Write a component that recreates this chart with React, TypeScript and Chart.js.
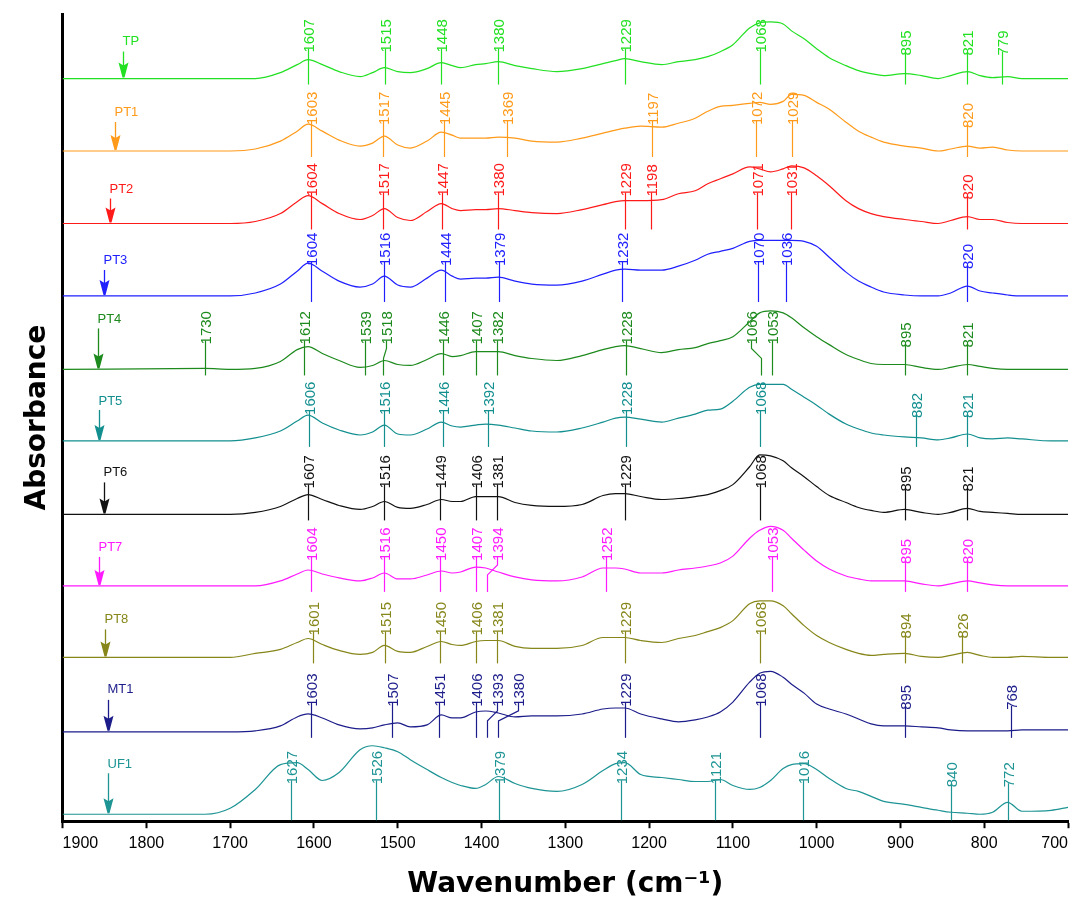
import React, { useEffect, useRef } from "react";
import { Chart, registerables } from "chart.js";

Chart.register(...registerables);

// ---------- data ----------
const WAVENUMBERS = [
  1900, 1730, 1700, 1670, 1640, 1620, 1607, 1590, 1570, 1545,
  1530, 1516, 1500, 1485, 1465, 1448, 1435, 1425, 1407, 1395,
  1380, 1360, 1340, 1310, 1280, 1255, 1240, 1229, 1210, 1185,
  1165, 1145, 1130, 1115, 1100, 1080, 1068, 1055, 1040, 1030,
  1015, 1000, 985, 965, 950, 935, 920, 895, 875, 855,
  840, 820, 805, 790, 772, 755, 720, 700,
];

const TP = [
  0, 0, 0, 0, 6, 14, 19, 14, 7, 2,
  6, 11, 7, 6, 10, 16, 13, 11, 14, 15,
  17, 13, 10, 7, 10, 15, 18, 20, 17, 14,
  17, 19, 22, 27, 34, 51, 56, 57, 55, 48,
  40, 30, 21, 13, 8, 5, 3, 5, 3, 0,
  3, 7, 3, 1, 2, 0, 0, 0,
];
const PT1 = [
  0, 0, 0, 2, 10, 20, 27, 20, 11, 5,
  8, 15, 6, 3, 10, 19, 16, 13, 13, 13,
  14, 13, 10, 9, 13, 18, 21, 23, 25, 24,
  28, 33, 40, 45, 46, 48, 49, 47, 50, 57,
  56, 49, 42, 29, 20, 14, 9, 5, 3, 0,
  2, 5, 3, 4, 1, 0, 0, 0,
];
const PT2 = [
  0, 0, 0, 2, 10, 22, 28, 20, 10, 4,
  8, 15, 6, 3, 12, 20, 15, 13, 14, 14,
  15, 13, 11, 10, 14, 19, 22, 23, 23, 24,
  30, 33, 40, 45, 50, 57, 55, 52, 55, 58,
  56, 48, 38, 23, 15, 10, 7, 4, 2, 0,
  3, 7, 4, 4, 1, 0, 0, 0,
];
const PT3 = [
  0, 0, 0, 3, 12, 25, 33, 25, 15, 9,
  12, 20, 11, 9, 18, 26, 20, 17, 18, 18,
  19, 15, 12, 11, 15, 22, 26, 27, 26, 26,
  30, 36, 42, 45, 48, 55, 56, 56, 56, 56,
  55, 50, 39, 24, 15, 9, 4, 1, 0, 0,
  3, 10, 5, 3, 1, 0, 0, 0,
];
const PT4 = [
  0, 1, 0, 1, 8, 20, 23, 16, 9, 2,
  4, 9, 5, 4, 10, 16, 13, 14, 18, 18,
  18, 14, 11, 9, 14, 20, 23, 24, 21, 17,
  20, 22, 26, 29, 33, 48, 57, 59, 57, 52,
  42, 33, 25, 15, 10, 6, 5, 5, 2, 0,
  2, 5, 3, 1, 0, 0, 0, 0,
];
const PT5 = [
  0, 0, 0, 3, 10, 20, 26, 18, 11, 6,
  9, 16, 7, 6, 12, 19, 15, 14, 16, 17,
  16, 13, 10, 9, 13, 19, 23, 24, 22, 19,
  23, 27, 31, 32, 40, 54, 57, 57, 57, 52,
  44, 36, 27, 17, 12, 8, 6, 4, 3, 1,
  3, 7, 3, 2, 3, 2, 0, 0,
];
const PT6 = [
  0, 0, 0, 2, 8, 16, 20, 15, 9, 5,
  8, 13, 7, 6, 10, 15, 13, 13, 18, 18,
  18, 12, 9, 8, 10, 19, 21, 21, 18, 15,
  16, 18, 20, 24, 30, 48, 60, 59, 54, 47,
  38, 28, 19, 12, 7, 4, 2, 5, 2, 0,
  2, 6, 3, 2, 1, 0, 0, 0,
];
const PT7 = [
  0, 0, 0, 0, 5, 12, 16, 12, 8, 5,
  8, 13, 7, 7, 11, 15, 13, 14, 19, 18,
  14, 9, 6, 5, 9, 18, 18, 17, 13, 13,
  16, 18, 20, 23, 30, 48, 56, 60, 56, 48,
  36, 25, 17, 10, 7, 5, 5, 5, 2, 0,
  2, 5, 3, 1, 0, 0, 0, 0,
];
const PT8 = [
  0, 0, 0, 4, 8, 15, 19, 13, 7, 3,
  5, 12, 6, 5, 11, 16, 13, 12, 16, 17,
  17, 11, 9, 9, 12, 20, 20, 20, 17, 15,
  19, 22, 26, 30, 37, 54, 57, 57, 52, 44,
  32, 22, 15, 8, 4, 2, 3, 4, 1, 0,
  2, 5, 2, 0, 0, 1, 0, 0,
];
const MT1 = [
  0, 0, 0, 1, 6, 15, 18, 14, 7, 3,
  4, 7, 9, 5, 7, 17, 14, 14, 20, 21,
  19, 15, 16, 16, 18, 23, 24, 24, 18, 13,
  10, 12, 15, 20, 30, 50, 59, 61, 55, 48,
  39, 28, 23, 18, 13, 8, 6, 6, 5, 4,
  2, 1, 1, 1, 1, 2, 2, 2,
];
const UF1 = [
  0, 0, 6, 25, 50, 52, 45, 34, 42, 65,
  69, 67, 63, 55, 45, 37, 32, 29, 26, 30,
  38, 31, 26, 23, 30, 44, 51, 52, 40, 37,
  35, 33, 33, 35, 29, 25, 27, 34, 46, 50,
  51, 45, 36, 26, 23, 18, 13, 10, 7, 4,
  2, 1, 0, 2, 12, 3, 4, 7,
];

// vertical stacking offsets (same units as the absorbance values)
const OFFSETS = [748, 675, 602, 529, 455, 383, 309, 237, 165, 90, 7];

const NAMES = ["TP", "PT1", "PT2", "PT3", "PT4", "PT5", "PT6", "PT7", "PT8", "MT1", "UF1"];

// labelled peak positions (cm-1)
const TP_PEAKS = [1607, 1515, 1448, 1380, 1229, 1068, 895, 821, 779];
const PT1_PEAKS = [1603, 1517, 1445, 1369, 1197, 1072, 1029, 820];
const PT2_PEAKS = [1604, 1517, 1447, 1380, 1229, 1198, 1071, 1031, 820];
const PT3_PEAKS = [1604, 1516, 1444, 1379, 1232, 1070, 1036, 820];
const PT4_PEAKS = [1730, 1612, 1539, 1518, 1446, 1407, 1382, 1228, 1066, 1053, 895, 821];
const PT5_PEAKS = [1606, 1516, 1446, 1392, 1228, 1068, 882, 821];
const PT6_PEAKS = [1607, 1516, 1449, 1406, 1381, 1229, 1068, 895, 821];
const PT7_PEAKS = [1604, 1516, 1450, 1407, 1394, 1252, 1053, 895, 820];
const PT8_PEAKS = [1601, 1515, 1450, 1406, 1381, 1229, 1068, 894, 826];
const MT1_PEAKS = [1603, 1507, 1451, 1406, 1393, 1380, 1229, 1068, 895, 768];
const UF1_PEAKS = [1627, 1526, 1379, 1234, 1121, 1016, 840, 772];

const X_TICK_MIN = 700;
const X_TICK_MAX = 1900;
const X_TICK_STEP = 100;

// ---------- styling / layout ----------
const COLORS = [
  "#22e022", "#ff9a1a", "#ff1a1a", "#2020ff", "#1d8a1d", "#138f8f",
  "#111111", "#ff1aff", "#86861a", "#1c1c8a", "#1e9494",
];
const LABEL_GAP = [26, 26, 27, 30, 25, 26, 26, 25, 22, 25, 30];
const TAG_WN = [1828, 1838, 1844, 1850, 1858, 1857, 1850, 1857, 1849, 1846, 1846];
const TAG_TEXT_LIFT = [37, 39, 34, 36, 50, 40, 42, 38, 38, 42, 50];
const TAG_ARROW_LIFT = [27, 29, 25, 26, 41, 31, 32, 29, 28, 32, 41];
const LABEL_NUDGE: Record<string, number> = {
  "PT4:1066": -10,
  "PT4:1518": 3,
  "PT7:1394": 10,
  "MT1:1393": 10,
  "MT1:1380": 20,
};

const SERIES = [TP, PT1, PT2, PT3, PT4, PT5, PT6, PT7, PT8, MT1, UF1];
const PEAKS = [TP_PEAKS, PT1_PEAKS, PT2_PEAKS, PT3_PEAKS, PT4_PEAKS, PT5_PEAKS, PT6_PEAKS, PT7_PEAKS, PT8_PEAKS, MT1_PEAKS, UF1_PEAKS];

const SANS = '"Liberation Sans", Arial, sans-serif';

// keep the end labels inside the axis span (left end label starts at its tick, right end label ends at its tick)
function tickText(v: number): string {
  const s = String(v);
  if (v === X_TICK_MAX) return " ".repeat(s.length * 2) + s;
  if (v === X_TICK_MIN) return s + " ".repeat(s.length * 2);
  return s;
}

const peakPlugin = {
  id: "peakMarks",
  afterDatasetsDraw(chart: any) {
    const ctx = chart.ctx as CanvasRenderingContext2D;
    const xs = chart.scales.x;
    const ys = chart.scales.y;
    SERIES.forEach((_, i) => {
      const base = ys.getPixelForValue(OFFSETS[i]);
      const color = COLORS[i];
      ctx.save();
      ctx.strokeStyle = color;
      ctx.fillStyle = color;
      ctx.lineWidth = 1.2;
      ctx.font = "15px " + SANS;
      PEAKS[i].forEach((wn) => {
        const px = Math.round(xs.getPixelForValue(wn)) + 0.5;
        const gap = LABEL_GAP[i] - (wn < 950 ? 3 : 0);
        const lb = base - gap;
        const nudge = LABEL_NUDGE[NAMES[i] + ":" + wn] || 0;
        const lx = px + nudge;
        const bottom = base + 6;
        ctx.beginPath();
        if (nudge) {
          ctx.moveTo(lx, lb - 4);
          ctx.lineTo(lx, lb + 4);
          ctx.lineTo(px, lb + 14);
          ctx.lineTo(px, bottom);
        } else {
          ctx.moveTo(px, lb - 4);
          ctx.lineTo(px, bottom);
        }
        ctx.stroke();
        ctx.save();
        ctx.translate(lx, lb);
        ctx.rotate(-Math.PI / 2);
        ctx.textAlign = "left";
        ctx.textBaseline = "middle";
        ctx.fillText(String(wn), 0, 1);
        ctx.restore();
      });
      // series name tag with arrow
      const ax = Math.round(xs.getPixelForValue(TAG_WN[i])) + 0.5;
      const top = base - TAG_ARROW_LIFT[i];
      ctx.lineWidth = 1.3;
      ctx.beginPath();
      ctx.moveTo(ax, top);
      ctx.lineTo(ax, base - 12);
      ctx.stroke();
      ctx.beginPath();
      ctx.moveTo(ax - 5, base - 16);
      ctx.lineTo(ax, base - 13);
      ctx.lineTo(ax + 5, base - 16);
      ctx.lineTo(ax + 1, base - 1);
      ctx.lineTo(ax - 1, base - 1);
      ctx.closePath();
      ctx.fill();
      ctx.font = "13px " + SANS;
      ctx.textAlign = "left";
      ctx.textBaseline = "middle";
      ctx.fillText(NAMES[i], ax - 1, base - TAG_TEXT_LIFT[i]);
      ctx.restore();
    });
  },
};

export default function App() {
  const canvasRef = useRef<HTMLCanvasElement | null>(null);

  useEffect(() => {
    const canvas = canvasRef.current;
    if (!canvas) return;
    const datasets = SERIES.map((vals, i) => ({
      label: NAMES[i],
      data: WAVENUMBERS.map((wn, k) => ({ x: wn, y: vals[k] + OFFSETS[i] })),
      borderColor: COLORS[i],
      backgroundColor: COLORS[i],
      borderWidth: 1.2,
      pointRadius: 0,
      fill: false,
      cubicInterpolationMode: "monotone" as const,
    }));
    const chart = new Chart(canvas, {
      type: "line",
      data: { datasets },
      options: {
        animation: false,
        responsive: false,
        devicePixelRatio: 1,
        layout: { padding: { left: 10, right: 5, top: 14, bottom: 11 } },
        plugins: {
          legend: { display: false },
          tooltip: { enabled: false },
        },
        scales: {
          x: {
            type: "linear",
            position: "bottom",
            reverse: true,
            min: X_TICK_MIN,
            max: X_TICK_MAX,
            afterFit: (scale: any) => {
              scale.paddingLeft = 0;
              scale.paddingRight = 0;
            },
            ticks: {
              stepSize: X_TICK_STEP,
              padding: 6,
              color: "#000",
              font: { family: SANS, size: 16 },
              callback: (v: any) => tickText(Number(v)),
            },
            grid: {
              drawOnChartArea: false,
              drawTicks: true,
              tickLength: 7,
              tickWidth: 2,
              tickColor: "#000",
            },
            border: { display: true, width: 3, color: "#000" },
            title: {
              display: true,
              text: "Wavenumber (cm\u207B\u00B9)",
              color: "#000",
              font: { family: '"DejaVu Sans", sans-serif', weight: "bold", size: 28 },
              padding: { top: 9, bottom: 0 },
            },
          },
          y: {
            type: "linear",
            position: "left",
            min: 0,
            max: 813,
            ticks: { display: false },
            grid: { drawOnChartArea: false, drawTicks: false },
            border: { display: true, width: 3, color: "#000" },
            title: {
              display: true,
              text: "Absorbance",
              color: "#000",
              font: { family: '"DejaVu Sans", sans-serif', weight: "bold", size: 28 },
              padding: { top: 11, bottom: 8 },
            },
          },
        },
      },
      plugins: [peakPlugin],
    } as any);
    return () => chart.destroy();
  }, []);

  return (
    <div style={{ position: "absolute", left: 0, top: 0, width: 1073, height: 913, background: "#fff" }}>
      <canvas ref={canvasRef} width={1073} height={913} style={{ display: "block", width: 1073, height: 913 }} />
    </div>
  );
}
